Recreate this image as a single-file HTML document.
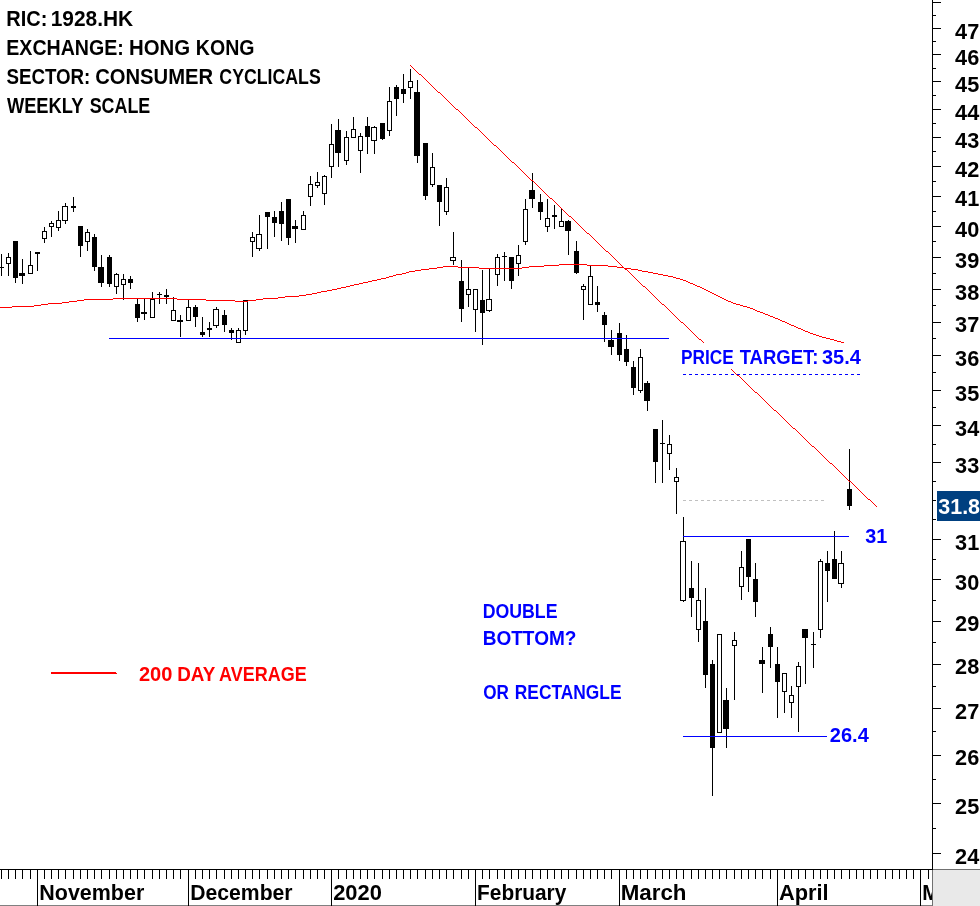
<!DOCTYPE html><html><head><meta charset="utf-8"><title>1928.HK chart</title>
<style>html,body{margin:0;padding:0;background:#fff}svg{display:block}text{font-family:"Liberation Sans",sans-serif;font-weight:bold}</style></head><body>
<svg width="980" height="906" viewBox="0 0 980 906">
<rect width="980" height="906" fill="#fff"/>
<g shape-rendering="crispEdges">
<rect x="1" y="254" width="1" height="22" fill="#000"/>
<rect x="-1" y="267" width="5" height="1" fill="#000"/>
<rect x="8" y="253" width="1" height="4" fill="#000"/>
<rect x="8" y="264" width="1" height="12" fill="#000"/>
<rect x="6.5" y="257.5" width="4" height="6" fill="none" stroke="#000" stroke-width="1"/>
<rect x="15" y="241" width="1" height="42" fill="#000"/>
<rect x="13" y="241" width="5" height="37" fill="#000"/>
<rect x="22" y="259" width="1" height="25" fill="#000"/>
<rect x="19" y="273" width="6" height="3" fill="#000"/>
<rect x="30" y="251" width="1" height="14" fill="#000"/>
<rect x="28.5" y="265.5" width="4" height="8" fill="none" stroke="#000" stroke-width="1"/>
<rect x="37" y="252" width="1" height="19" fill="#000"/>
<rect x="35" y="252" width="5" height="2" fill="#000"/>
<rect x="44" y="227" width="1" height="4" fill="#000"/>
<rect x="44" y="239" width="1" height="4" fill="#000"/>
<rect x="42.5" y="231.5" width="4" height="7" fill="none" stroke="#000" stroke-width="1"/>
<rect x="51" y="221" width="1" height="2" fill="#000"/>
<rect x="51" y="227" width="1" height="10" fill="#000"/>
<rect x="49.5" y="223.5" width="4" height="3" fill="none" stroke="#000" stroke-width="1"/>
<rect x="58" y="211" width="1" height="9" fill="#000"/>
<rect x="58" y="228" width="1" height="3" fill="#000"/>
<rect x="56.5" y="220.5" width="4" height="7" fill="none" stroke="#000" stroke-width="1"/>
<rect x="65" y="203" width="1" height="3" fill="#000"/>
<rect x="65" y="221" width="1" height="3" fill="#000"/>
<rect x="62.5" y="206.5" width="5" height="14" fill="none" stroke="#000" stroke-width="1"/>
<rect x="73" y="197" width="1" height="15" fill="#000"/>
<rect x="71" y="206" width="5" height="2" fill="#000"/>
<rect x="80" y="226" width="1" height="31" fill="#000"/>
<rect x="78" y="226" width="5" height="20" fill="#000"/>
<rect x="87" y="229" width="1" height="3" fill="#000"/>
<rect x="87" y="242" width="1" height="9" fill="#000"/>
<rect x="85.5" y="232.5" width="4" height="9" fill="none" stroke="#000" stroke-width="1"/>
<rect x="94" y="234" width="1" height="37" fill="#000"/>
<rect x="92" y="237" width="5" height="30" fill="#000"/>
<rect x="101" y="255" width="1" height="32" fill="#000"/>
<rect x="98" y="267" width="6" height="16" fill="#000"/>
<rect x="109" y="255" width="1" height="32" fill="#000"/>
<rect x="107" y="257" width="5" height="27" fill="#000"/>
<rect x="116" y="273" width="1" height="1" fill="#000"/>
<rect x="116" y="287" width="1" height="7" fill="#000"/>
<rect x="114.5" y="274.5" width="4" height="12" fill="none" stroke="#000" stroke-width="1"/>
<rect x="123" y="274" width="1" height="5" fill="#000"/>
<rect x="123" y="285" width="1" height="15" fill="#000"/>
<rect x="121.5" y="279.5" width="4" height="5" fill="none" stroke="#000" stroke-width="1"/>
<rect x="130" y="276" width="1" height="13" fill="#000"/>
<rect x="128" y="279" width="5" height="4" fill="#000"/>
<rect x="137" y="299" width="1" height="23" fill="#000"/>
<rect x="135" y="304" width="5" height="14" fill="#000"/>
<rect x="144" y="299" width="1" height="21" fill="#000"/>
<rect x="141" y="312" width="6" height="2" fill="#000"/>
<rect x="152" y="292" width="1" height="7" fill="#000"/>
<rect x="150.5" y="299.5" width="4" height="18" fill="none" stroke="#000" stroke-width="1"/>
<rect x="159" y="292" width="1" height="12" fill="#000"/>
<rect x="157" y="294" width="5" height="1" fill="#000"/>
<rect x="166" y="289" width="1" height="15" fill="#000"/>
<rect x="164" y="295" width="5" height="2" fill="#000"/>
<rect x="173" y="297" width="1" height="13" fill="#000"/>
<rect x="171.5" y="310.5" width="4" height="10" fill="none" stroke="#000" stroke-width="1"/>
<rect x="180" y="315" width="1" height="22" fill="#000"/>
<rect x="177" y="320" width="6" height="2" fill="#000"/>
<rect x="188" y="299" width="1" height="8" fill="#000"/>
<rect x="186.5" y="307.5" width="4" height="13" fill="none" stroke="#000" stroke-width="1"/>
<rect x="195" y="305" width="1" height="22" fill="#000"/>
<rect x="193" y="307" width="5" height="10" fill="#000"/>
<rect x="202" y="317" width="1" height="20" fill="#000"/>
<rect x="200" y="332" width="5" height="3" fill="#000"/>
<rect x="209" y="322" width="1" height="15" fill="#000"/>
<rect x="207" y="328" width="5" height="2" fill="#000"/>
<rect x="216" y="307" width="1" height="2" fill="#000"/>
<rect x="216" y="326" width="1" height="2" fill="#000"/>
<rect x="213.5" y="309.5" width="5" height="16" fill="none" stroke="#000" stroke-width="1"/>
<rect x="224" y="310" width="1" height="22" fill="#000"/>
<rect x="222" y="315" width="5" height="10" fill="#000"/>
<rect x="231" y="328" width="1" height="12" fill="#000"/>
<rect x="229" y="330" width="5" height="3" fill="#000"/>
<rect x="238" y="328" width="1" height="2" fill="#000"/>
<rect x="236.5" y="330.5" width="4" height="12" fill="none" stroke="#000" stroke-width="1"/>
<rect x="245" y="331" width="1" height="4" fill="#000"/>
<rect x="243.5" y="300.5" width="4" height="30" fill="none" stroke="#000" stroke-width="1"/>
<rect x="252" y="232" width="1" height="5" fill="#000"/>
<rect x="252" y="242" width="1" height="15" fill="#000"/>
<rect x="250.5" y="237.5" width="4" height="4" fill="none" stroke="#000" stroke-width="1"/>
<rect x="259" y="215" width="1" height="19" fill="#000"/>
<rect x="259" y="249" width="1" height="2" fill="#000"/>
<rect x="256.5" y="234.5" width="5" height="14" fill="none" stroke="#000" stroke-width="1"/>
<rect x="267" y="212" width="1" height="37" fill="#000"/>
<rect x="265" y="212" width="5" height="5" fill="#000"/>
<rect x="274" y="211" width="1" height="26" fill="#000"/>
<rect x="272" y="217" width="5" height="6" fill="#000"/>
<rect x="281" y="202" width="1" height="39" fill="#000"/>
<rect x="279" y="211" width="5" height="13" fill="#000"/>
<rect x="288" y="199" width="1" height="46" fill="#000"/>
<rect x="286" y="199" width="5" height="39" fill="#000"/>
<rect x="295" y="220" width="1" height="23" fill="#000"/>
<rect x="292" y="226" width="6" height="3" fill="#000"/>
<rect x="303" y="211" width="1" height="4" fill="#000"/>
<rect x="301.5" y="215.5" width="4" height="14" fill="none" stroke="#000" stroke-width="1"/>
<rect x="310" y="176" width="1" height="8" fill="#000"/>
<rect x="310" y="197" width="1" height="9" fill="#000"/>
<rect x="308.5" y="184.5" width="4" height="12" fill="none" stroke="#000" stroke-width="1"/>
<rect x="317" y="172" width="1" height="10" fill="#000"/>
<rect x="317" y="186" width="1" height="2" fill="#000"/>
<rect x="315.5" y="182.5" width="4" height="3" fill="none" stroke="#000" stroke-width="1"/>
<rect x="324" y="175" width="1" height="1" fill="#000"/>
<rect x="324" y="194" width="1" height="11" fill="#000"/>
<rect x="322.5" y="176.5" width="4" height="17" fill="none" stroke="#000" stroke-width="1"/>
<rect x="331" y="124" width="1" height="20" fill="#000"/>
<rect x="331" y="167" width="1" height="11" fill="#000"/>
<rect x="329.5" y="144.5" width="4" height="22" fill="none" stroke="#000" stroke-width="1"/>
<rect x="338" y="119" width="1" height="48" fill="#000"/>
<rect x="335" y="130" width="6" height="23" fill="#000"/>
<rect x="346" y="131" width="1" height="6" fill="#000"/>
<rect x="346" y="161" width="1" height="4" fill="#000"/>
<rect x="344.5" y="137.5" width="4" height="23" fill="none" stroke="#000" stroke-width="1"/>
<rect x="353" y="117" width="1" height="12" fill="#000"/>
<rect x="351.5" y="129.5" width="4" height="8" fill="none" stroke="#000" stroke-width="1"/>
<rect x="360" y="133" width="1" height="3" fill="#000"/>
<rect x="360" y="151" width="1" height="22" fill="#000"/>
<rect x="358.5" y="136.5" width="4" height="14" fill="none" stroke="#000" stroke-width="1"/>
<rect x="367" y="117" width="1" height="37" fill="#000"/>
<rect x="365" y="126" width="5" height="11" fill="#000"/>
<rect x="374" y="126" width="1" height="1" fill="#000"/>
<rect x="374" y="141" width="1" height="13" fill="#000"/>
<rect x="371.5" y="127.5" width="5" height="13" fill="none" stroke="#000" stroke-width="1"/>
<rect x="382" y="123" width="1" height="17" fill="#000"/>
<rect x="380" y="123" width="5" height="16" fill="#000"/>
<rect x="389" y="87" width="1" height="14" fill="#000"/>
<rect x="389" y="131" width="1" height="5" fill="#000"/>
<rect x="387.5" y="101.5" width="4" height="29" fill="none" stroke="#000" stroke-width="1"/>
<rect x="396" y="85" width="1" height="31" fill="#000"/>
<rect x="394" y="87" width="5" height="12" fill="#000"/>
<rect x="403" y="74" width="1" height="29" fill="#000"/>
<rect x="401" y="89" width="5" height="5" fill="#000"/>
<rect x="410" y="69" width="1" height="12" fill="#000"/>
<rect x="410" y="88" width="1" height="11" fill="#000"/>
<rect x="408.5" y="81.5" width="4" height="6" fill="none" stroke="#000" stroke-width="1"/>
<rect x="417" y="80" width="1" height="83" fill="#000"/>
<rect x="414" y="92" width="6" height="64" fill="#000"/>
<rect x="425" y="143" width="1" height="57" fill="#000"/>
<rect x="423" y="143" width="5" height="53" fill="#000"/>
<rect x="432" y="153" width="1" height="14" fill="#000"/>
<rect x="432" y="185" width="1" height="2" fill="#000"/>
<rect x="430.5" y="167.5" width="4" height="17" fill="none" stroke="#000" stroke-width="1"/>
<rect x="439" y="185" width="1" height="41" fill="#000"/>
<rect x="437" y="185" width="5" height="17" fill="#000"/>
<rect x="446" y="178" width="1" height="9" fill="#000"/>
<rect x="446" y="212" width="1" height="3" fill="#000"/>
<rect x="444.5" y="187.5" width="4" height="24" fill="none" stroke="#000" stroke-width="1"/>
<rect x="453" y="232" width="1" height="25" fill="#000"/>
<rect x="453" y="261" width="1" height="4" fill="#000"/>
<rect x="450.5" y="257.5" width="5" height="3" fill="none" stroke="#000" stroke-width="1"/>
<rect x="461" y="260" width="1" height="62" fill="#000"/>
<rect x="459" y="281" width="5" height="28" fill="#000"/>
<rect x="468" y="267" width="1" height="22" fill="#000"/>
<rect x="468" y="295" width="1" height="12" fill="#000"/>
<rect x="466.5" y="289.5" width="4" height="5" fill="none" stroke="#000" stroke-width="1"/>
<rect x="475" y="310" width="1" height="22" fill="#000"/>
<rect x="473.5" y="289.5" width="4" height="20" fill="none" stroke="#000" stroke-width="1"/>
<rect x="482" y="270" width="1" height="75" fill="#000"/>
<rect x="480" y="300" width="5" height="13" fill="#000"/>
<rect x="489" y="268" width="1" height="31" fill="#000"/>
<rect x="489" y="311" width="1" height="1" fill="#000"/>
<rect x="486.5" y="299.5" width="5" height="11" fill="none" stroke="#000" stroke-width="1"/>
<rect x="497" y="254" width="1" height="3" fill="#000"/>
<rect x="497" y="275" width="1" height="11" fill="#000"/>
<rect x="495.5" y="257.5" width="4" height="17" fill="none" stroke="#000" stroke-width="1"/>
<rect x="504" y="252" width="1" height="29" fill="#000"/>
<rect x="502" y="256" width="5" height="1" fill="#000"/>
<rect x="511" y="257" width="1" height="32" fill="#000"/>
<rect x="509" y="257" width="5" height="24" fill="#000"/>
<rect x="518" y="245" width="1" height="10" fill="#000"/>
<rect x="518" y="264" width="1" height="12" fill="#000"/>
<rect x="516.5" y="255.5" width="4" height="8" fill="none" stroke="#000" stroke-width="1"/>
<rect x="525" y="199" width="1" height="10" fill="#000"/>
<rect x="525" y="242" width="1" height="3" fill="#000"/>
<rect x="523.5" y="209.5" width="4" height="32" fill="none" stroke="#000" stroke-width="1"/>
<rect x="532" y="173" width="1" height="35" fill="#000"/>
<rect x="529" y="190" width="6" height="9" fill="#000"/>
<rect x="540" y="194" width="1" height="26" fill="#000"/>
<rect x="538" y="202" width="5" height="10" fill="#000"/>
<rect x="547" y="199" width="1" height="19" fill="#000"/>
<rect x="547" y="227" width="1" height="5" fill="#000"/>
<rect x="545.5" y="218.5" width="4" height="8" fill="none" stroke="#000" stroke-width="1"/>
<rect x="554" y="205" width="1" height="24" fill="#000"/>
<rect x="552" y="215" width="5" height="2" fill="#000"/>
<rect x="561" y="208" width="1" height="13" fill="#000"/>
<rect x="559.5" y="221.5" width="4" height="5" fill="none" stroke="#000" stroke-width="1"/>
<rect x="568" y="220" width="1" height="35" fill="#000"/>
<rect x="565" y="221" width="6" height="10" fill="#000"/>
<rect x="576" y="241" width="1" height="33" fill="#000"/>
<rect x="574" y="251" width="5" height="22" fill="#000"/>
<rect x="583" y="284" width="1" height="2" fill="#000"/>
<rect x="583" y="290" width="1" height="30" fill="#000"/>
<rect x="581.5" y="286.5" width="4" height="3" fill="none" stroke="#000" stroke-width="1"/>
<rect x="590" y="265" width="1" height="11" fill="#000"/>
<rect x="588.5" y="276.5" width="4" height="28" fill="none" stroke="#000" stroke-width="1"/>
<rect x="597" y="286" width="1" height="26" fill="#000"/>
<rect x="595" y="302" width="5" height="3" fill="#000"/>
<rect x="604" y="312" width="1" height="30" fill="#000"/>
<rect x="602" y="315" width="5" height="10" fill="#000"/>
<rect x="611" y="330" width="1" height="25" fill="#000"/>
<rect x="608" y="340" width="6" height="7" fill="#000"/>
<rect x="619" y="323" width="1" height="38" fill="#000"/>
<rect x="617" y="333" width="5" height="22" fill="#000"/>
<rect x="626" y="335" width="1" height="31" fill="#000"/>
<rect x="624" y="349" width="5" height="13" fill="#000"/>
<rect x="633" y="361" width="1" height="34" fill="#000"/>
<rect x="631" y="367" width="5" height="21" fill="#000"/>
<rect x="640" y="349" width="1" height="8" fill="#000"/>
<rect x="640" y="391" width="1" height="2" fill="#000"/>
<rect x="638.5" y="357.5" width="4" height="33" fill="none" stroke="#000" stroke-width="1"/>
<rect x="647" y="381" width="1" height="30" fill="#000"/>
<rect x="644" y="383" width="6" height="18" fill="#000"/>
<rect x="655" y="429" width="1" height="54" fill="#000"/>
<rect x="653" y="429" width="5" height="33" fill="#000"/>
<rect x="662" y="420" width="1" height="63" fill="#000"/>
<rect x="660" y="443" width="5" height="1" fill="#000"/>
<rect x="669" y="435" width="1" height="9" fill="#000"/>
<rect x="669" y="454" width="1" height="16" fill="#000"/>
<rect x="667.5" y="444.5" width="4" height="9" fill="none" stroke="#000" stroke-width="1"/>
<rect x="676" y="468" width="1" height="9" fill="#000"/>
<rect x="676" y="482" width="1" height="32" fill="#000"/>
<rect x="674.5" y="477.5" width="4" height="4" fill="none" stroke="#000" stroke-width="1"/>
<rect x="683" y="517" width="1" height="24" fill="#000"/>
<rect x="683" y="601" width="1" height="1" fill="#000"/>
<rect x="680.5" y="541.5" width="5" height="59" fill="none" stroke="#000" stroke-width="1"/>
<rect x="691" y="561" width="1" height="56" fill="#000"/>
<rect x="689" y="588" width="5" height="10" fill="#000"/>
<rect x="698" y="563" width="1" height="37" fill="#000"/>
<rect x="698" y="630" width="1" height="12" fill="#000"/>
<rect x="696.5" y="600.5" width="4" height="29" fill="none" stroke="#000" stroke-width="1"/>
<rect x="705" y="588" width="1" height="100" fill="#000"/>
<rect x="703" y="621" width="5" height="54" fill="#000"/>
<rect x="712" y="660" width="1" height="136" fill="#000"/>
<rect x="710" y="664" width="5" height="84" fill="#000"/>
<rect x="717.5" y="634.5" width="4" height="98" fill="none" stroke="#000" stroke-width="1"/>
<rect x="726" y="688" width="1" height="60" fill="#000"/>
<rect x="723" y="700" width="6" height="29" fill="#000"/>
<rect x="734" y="632" width="1" height="8" fill="#000"/>
<rect x="734" y="646" width="1" height="54" fill="#000"/>
<rect x="732.5" y="640.5" width="4" height="5" fill="none" stroke="#000" stroke-width="1"/>
<rect x="741" y="551" width="1" height="16" fill="#000"/>
<rect x="741" y="587" width="1" height="13" fill="#000"/>
<rect x="739.5" y="567.5" width="4" height="19" fill="none" stroke="#000" stroke-width="1"/>
<rect x="748" y="539" width="1" height="53" fill="#000"/>
<rect x="746" y="539" width="5" height="38" fill="#000"/>
<rect x="755" y="563" width="1" height="54" fill="#000"/>
<rect x="753" y="579" width="5" height="23" fill="#000"/>
<rect x="762" y="647" width="1" height="46" fill="#000"/>
<rect x="759" y="660" width="6" height="4" fill="#000"/>
<rect x="770" y="627" width="1" height="41" fill="#000"/>
<rect x="768" y="634" width="5" height="13" fill="#000"/>
<rect x="777" y="647" width="1" height="71" fill="#000"/>
<rect x="775" y="664" width="5" height="18" fill="#000"/>
<rect x="784" y="692" width="1" height="21" fill="#000"/>
<rect x="782.5" y="673.5" width="4" height="18" fill="none" stroke="#000" stroke-width="1"/>
<rect x="791" y="686" width="1" height="9" fill="#000"/>
<rect x="791" y="703" width="1" height="15" fill="#000"/>
<rect x="789.5" y="695.5" width="4" height="7" fill="none" stroke="#000" stroke-width="1"/>
<rect x="798" y="662" width="1" height="4" fill="#000"/>
<rect x="798" y="687" width="1" height="45" fill="#000"/>
<rect x="796.5" y="666.5" width="4" height="20" fill="none" stroke="#000" stroke-width="1"/>
<rect x="805" y="629" width="1" height="55" fill="#000"/>
<rect x="802" y="629" width="6" height="9" fill="#000"/>
<rect x="813" y="632" width="1" height="36" fill="#000"/>
<rect x="811" y="644" width="5" height="1" fill="#000"/>
<rect x="820" y="559" width="1" height="2" fill="#000"/>
<rect x="820" y="630" width="1" height="8" fill="#000"/>
<rect x="818.5" y="561.5" width="4" height="68" fill="none" stroke="#000" stroke-width="1"/>
<rect x="827" y="551" width="1" height="51" fill="#000"/>
<rect x="825" y="563" width="5" height="8" fill="#000"/>
<rect x="834" y="531" width="1" height="48" fill="#000"/>
<rect x="832" y="559" width="5" height="20" fill="#000"/>
<rect x="841" y="551" width="1" height="12" fill="#000"/>
<rect x="841" y="584" width="1" height="4" fill="#000"/>
<rect x="838.5" y="563.5" width="5" height="20" fill="none" stroke="#000" stroke-width="1"/>
<rect x="849" y="449" width="1" height="61" fill="#000"/>
<rect x="847" y="489" width="5" height="17" fill="#000"/>
<path d="M0,307h1v1h-1zM1,307h1v1h-1zM2,307h1v1h-1zM3,307h1v1h-1zM4,307h1v1h-1zM5,307h1v1h-1zM6,307h1v1h-1zM7,307h1v1h-1zM8,307h1v1h-1zM9,307h1v1h-1zM10,307h1v1h-1zM11,307h1v1h-1zM12,306h1v1h-1zM13,306h1v1h-1zM14,306h1v1h-1zM15,306h1v1h-1zM16,306h1v1h-1zM17,306h1v1h-1zM18,306h1v1h-1zM19,306h1v1h-1zM20,306h1v1h-1zM21,306h1v1h-1zM22,306h1v1h-1zM23,306h1v1h-1zM24,306h1v1h-1zM25,306h1v1h-1zM26,306h1v1h-1zM27,306h1v1h-1zM28,306h1v1h-1zM29,306h1v1h-1zM30,306h1v1h-1zM31,306h1v1h-1zM32,306h1v1h-1zM33,306h1v1h-1zM34,305h1v1h-1zM35,305h1v1h-1zM36,305h1v1h-1zM37,305h1v1h-1zM38,305h1v1h-1zM39,305h1v1h-1zM40,305h1v1h-1zM41,304h1v1h-1zM42,304h1v1h-1zM43,304h1v1h-1zM44,304h1v1h-1zM45,304h1v1h-1zM46,304h1v1h-1zM47,304h1v1h-1zM48,303h1v1h-1zM49,303h1v1h-1zM50,303h1v1h-1zM51,303h1v1h-1zM52,303h1v1h-1zM53,303h1v1h-1zM54,303h1v1h-1zM55,303h1v1h-1zM56,303h1v1h-1zM57,303h1v1h-1zM58,303h1v1h-1zM59,303h1v1h-1zM60,303h1v1h-1zM61,303h1v1h-1zM62,302h1v1h-1zM63,302h1v1h-1zM64,302h1v1h-1zM65,302h1v1h-1zM66,302h1v1h-1zM67,302h1v1h-1zM68,302h1v1h-1zM69,301h1v1h-1zM70,301h1v1h-1zM71,301h1v1h-1zM72,301h1v1h-1zM73,301h1v1h-1zM74,301h1v1h-1zM75,301h1v1h-1zM76,301h1v1h-1zM77,300h1v1h-1zM78,300h1v1h-1zM79,300h1v1h-1zM80,300h1v1h-1zM81,300h1v1h-1zM82,300h1v1h-1zM83,300h1v1h-1zM84,299h1v1h-1zM85,299h1v1h-1zM86,299h1v1h-1zM87,299h1v1h-1zM88,299h1v1h-1zM89,299h1v1h-1zM90,299h1v1h-1zM91,299h1v1h-1zM92,299h1v1h-1zM93,299h1v1h-1zM94,299h1v1h-1zM95,299h1v1h-1zM96,299h1v1h-1zM97,299h1v1h-1zM98,299h1v1h-1zM99,299h1v1h-1zM100,299h1v1h-1zM101,299h1v1h-1zM102,299h1v1h-1zM103,299h1v1h-1zM104,299h1v1h-1zM105,299h1v1h-1zM106,299h1v1h-1zM107,299h1v1h-1zM108,299h1v1h-1zM109,299h1v1h-1zM110,299h1v1h-1zM111,299h1v1h-1zM112,299h1v1h-1zM113,298h1v1h-1zM114,298h1v1h-1zM115,298h1v1h-1zM116,298h1v1h-1zM117,298h1v1h-1zM118,298h1v1h-1zM119,298h1v1h-1zM120,298h1v1h-1zM121,298h1v1h-1zM122,298h1v1h-1zM123,298h1v1h-1zM124,298h1v1h-1zM125,298h1v1h-1zM126,298h1v1h-1zM127,298h1v1h-1zM128,298h1v1h-1zM129,298h1v1h-1zM130,298h1v1h-1zM131,298h1v1h-1zM132,298h1v1h-1zM133,298h1v1h-1zM134,298h1v1h-1zM135,298h1v1h-1zM136,298h1v1h-1zM137,298h1v1h-1zM138,298h1v1h-1zM139,298h1v1h-1zM140,298h1v1h-1zM141,298h1v1h-1zM142,298h1v1h-1zM143,298h1v1h-1zM144,298h1v1h-1zM145,298h1v1h-1zM146,298h1v1h-1zM147,298h1v1h-1zM148,298h1v1h-1zM149,298h1v1h-1zM150,298h1v1h-1zM151,298h1v1h-1zM152,298h1v1h-1zM153,298h1v1h-1zM154,298h1v1h-1zM155,298h1v1h-1zM156,298h1v1h-1zM157,298h1v1h-1zM158,298h1v1h-1zM159,298h1v1h-1zM160,298h1v1h-1zM161,298h1v1h-1zM162,298h1v1h-1zM163,298h1v1h-1zM164,298h1v1h-1zM165,298h1v1h-1zM166,298h1v1h-1zM167,298h1v1h-1zM168,298h1v1h-1zM169,298h1v1h-1zM170,298h1v1h-1zM171,298h1v1h-1zM172,298h1v1h-1zM173,298h1v1h-1zM174,298h1v1h-1zM175,298h1v1h-1zM176,298h1v1h-1zM177,299h1v1h-1zM178,299h1v1h-1zM179,299h1v1h-1zM180,299h1v1h-1zM181,299h1v1h-1zM182,299h1v1h-1zM183,299h1v1h-1zM184,299h1v1h-1zM185,299h1v1h-1zM186,299h1v1h-1zM187,299h1v1h-1zM188,299h1v1h-1zM189,299h1v1h-1zM190,299h1v1h-1zM191,299h1v1h-1zM192,299h1v1h-1zM193,299h1v1h-1zM194,299h1v1h-1zM195,299h1v1h-1zM196,299h1v1h-1zM197,299h1v1h-1zM198,299h1v1h-1zM199,299h1v1h-1zM200,299h1v1h-1zM201,299h1v1h-1zM202,299h1v1h-1zM203,299h1v1h-1zM204,299h1v1h-1zM205,299h1v1h-1zM206,300h1v1h-1zM207,300h1v1h-1zM208,300h1v1h-1zM209,300h1v1h-1zM210,300h1v1h-1zM211,300h1v1h-1zM212,300h1v1h-1zM213,300h1v1h-1zM214,300h1v1h-1zM215,300h1v1h-1zM216,300h1v1h-1zM217,300h1v1h-1zM218,300h1v1h-1zM219,300h1v1h-1zM220,300h1v1h-1zM221,300h1v1h-1zM222,300h1v1h-1zM223,300h1v1h-1zM224,300h1v1h-1zM225,300h1v1h-1zM226,300h1v1h-1zM227,300h1v1h-1zM228,300h1v1h-1zM229,300h1v1h-1zM230,300h1v1h-1zM231,300h1v1h-1zM232,300h1v1h-1zM233,300h1v1h-1zM234,300h1v1h-1zM235,301h1v1h-1zM236,301h1v1h-1zM237,301h1v1h-1zM238,301h1v1h-1zM239,301h1v1h-1zM240,301h1v1h-1zM241,301h1v1h-1zM242,301h1v1h-1zM243,301h1v1h-1zM244,301h1v1h-1zM245,301h1v1h-1zM246,301h1v1h-1zM247,301h1v1h-1zM248,300h1v1h-1zM249,300h1v1h-1zM250,300h1v1h-1zM251,300h1v1h-1zM252,300h1v1h-1zM253,300h1v1h-1zM254,300h1v1h-1zM255,300h1v1h-1zM256,299h1v1h-1zM257,299h1v1h-1zM258,299h1v1h-1zM259,299h1v1h-1zM260,299h1v1h-1zM261,299h1v1h-1zM262,299h1v1h-1zM263,298h1v1h-1zM264,298h1v1h-1zM265,298h1v1h-1zM266,298h1v1h-1zM267,298h1v1h-1zM268,298h1v1h-1zM269,298h1v1h-1zM270,298h1v1h-1zM271,298h1v1h-1zM272,298h1v1h-1zM273,298h1v1h-1zM274,298h1v1h-1zM275,298h1v1h-1zM276,298h1v1h-1zM277,298h1v1h-1zM278,297h1v1h-1zM279,297h1v1h-1zM280,297h1v1h-1zM281,297h1v1h-1zM282,297h1v1h-1zM283,297h1v1h-1zM284,297h1v1h-1zM285,296h1v1h-1zM286,296h1v1h-1zM287,296h1v1h-1zM288,296h1v1h-1zM289,296h1v1h-1zM290,296h1v1h-1zM291,296h1v1h-1zM292,296h1v1h-1zM293,296h1v1h-1zM294,296h1v1h-1zM295,296h1v1h-1zM296,296h1v1h-1zM297,296h1v1h-1zM298,296h1v1h-1zM299,295h1v1h-1zM300,295h1v1h-1zM301,295h1v1h-1zM302,295h1v1h-1zM303,295h1v1h-1zM304,295h1v1h-1zM305,295h1v1h-1zM306,294h1v1h-1zM307,294h1v1h-1zM308,294h1v1h-1zM309,294h1v1h-1zM310,294h1v1h-1zM311,294h1v1h-1zM312,293h1v1h-1zM313,293h1v1h-1zM314,293h1v1h-1zM315,293h1v1h-1zM316,293h1v1h-1zM317,292h1v1h-1zM318,292h1v1h-1zM319,292h1v1h-1zM320,292h1v1h-1zM321,291h1v1h-1zM322,291h1v1h-1zM323,291h1v1h-1zM324,291h1v1h-1zM325,291h1v1h-1zM326,291h1v1h-1zM327,290h1v1h-1zM328,290h1v1h-1zM329,290h1v1h-1zM330,290h1v1h-1zM331,290h1v1h-1zM332,289h1v1h-1zM333,289h1v1h-1zM334,289h1v1h-1zM335,289h1v1h-1zM336,289h1v1h-1zM337,288h1v1h-1zM338,288h1v1h-1zM339,288h1v1h-1zM340,288h1v1h-1zM341,287h1v1h-1zM342,287h1v1h-1zM343,287h1v1h-1zM344,287h1v1h-1zM345,287h1v1h-1zM346,286h1v1h-1zM347,286h1v1h-1zM348,286h1v1h-1zM349,286h1v1h-1zM350,285h1v1h-1zM351,285h1v1h-1zM352,285h1v1h-1zM353,285h1v1h-1zM354,284h1v1h-1zM355,284h1v1h-1zM356,284h1v1h-1zM357,284h1v1h-1zM358,284h1v1h-1zM359,283h1v1h-1zM360,283h1v1h-1zM361,283h1v1h-1zM362,283h1v1h-1zM363,282h1v1h-1zM364,282h1v1h-1zM365,282h1v1h-1zM366,282h1v1h-1zM367,282h1v1h-1zM368,281h1v1h-1zM369,281h1v1h-1zM370,281h1v1h-1zM371,281h1v1h-1zM372,280h1v1h-1zM373,280h1v1h-1zM374,280h1v1h-1zM375,280h1v1h-1zM376,280h1v1h-1zM377,279h1v1h-1zM378,279h1v1h-1zM379,279h1v1h-1zM380,279h1v1h-1zM381,278h1v1h-1zM382,278h1v1h-1zM383,278h1v1h-1zM384,278h1v1h-1zM385,278h1v1h-1zM386,277h1v1h-1zM387,277h1v1h-1zM388,277h1v1h-1zM389,276h1v1h-1zM390,276h1v1h-1zM391,276h1v1h-1zM392,276h1v1h-1zM393,275h1v1h-1zM394,275h1v1h-1zM395,275h1v1h-1zM396,274h1v1h-1zM397,274h1v1h-1zM398,274h1v1h-1zM399,274h1v1h-1zM400,274h1v1h-1zM401,274h1v1h-1zM402,273h1v1h-1zM403,273h1v1h-1zM404,273h1v1h-1zM405,273h1v1h-1zM406,272h1v1h-1zM407,272h1v1h-1zM408,272h1v1h-1zM409,271h1v1h-1zM410,271h1v1h-1zM411,271h1v1h-1zM412,271h1v1h-1zM413,271h1v1h-1zM414,271h1v1h-1zM415,270h1v1h-1zM416,270h1v1h-1zM417,270h1v1h-1zM418,270h1v1h-1zM419,270h1v1h-1zM420,270h1v1h-1zM421,269h1v1h-1zM422,269h1v1h-1zM423,269h1v1h-1zM424,269h1v1h-1zM425,269h1v1h-1zM426,269h1v1h-1zM427,269h1v1h-1zM428,269h1v1h-1zM429,268h1v1h-1zM430,268h1v1h-1zM431,268h1v1h-1zM432,268h1v1h-1zM433,268h1v1h-1zM434,268h1v1h-1zM435,268h1v1h-1zM436,268h1v1h-1zM437,267h1v1h-1zM438,267h1v1h-1zM439,267h1v1h-1zM440,267h1v1h-1zM441,267h1v1h-1zM442,267h1v1h-1zM443,266h1v1h-1zM444,266h1v1h-1zM445,266h1v1h-1zM446,266h1v1h-1zM447,266h1v1h-1zM448,266h1v1h-1zM449,266h1v1h-1zM450,266h1v1h-1zM451,266h1v1h-1zM452,266h1v1h-1zM453,266h1v1h-1zM454,266h1v1h-1zM455,266h1v1h-1zM456,266h1v1h-1zM457,266h1v1h-1zM458,267h1v1h-1zM459,267h1v1h-1zM460,267h1v1h-1zM461,267h1v1h-1zM462,267h1v1h-1zM463,267h1v1h-1zM464,267h1v1h-1zM465,267h1v1h-1zM466,267h1v1h-1zM467,267h1v1h-1zM468,267h1v1h-1zM469,267h1v1h-1zM470,267h1v1h-1zM471,267h1v1h-1zM472,267h1v1h-1zM473,267h1v1h-1zM474,267h1v1h-1zM475,267h1v1h-1zM476,267h1v1h-1zM477,267h1v1h-1zM478,267h1v1h-1zM479,268h1v1h-1zM480,268h1v1h-1zM481,268h1v1h-1zM482,268h1v1h-1zM483,268h1v1h-1zM484,268h1v1h-1zM485,268h1v1h-1zM486,268h1v1h-1zM487,268h1v1h-1zM488,268h1v1h-1zM489,268h1v1h-1zM490,268h1v1h-1zM491,268h1v1h-1zM492,268h1v1h-1zM493,268h1v1h-1zM494,268h1v1h-1zM495,268h1v1h-1zM496,268h1v1h-1zM497,268h1v1h-1zM498,268h1v1h-1zM499,268h1v1h-1zM500,268h1v1h-1zM501,268h1v1h-1zM502,268h1v1h-1zM503,268h1v1h-1zM504,268h1v1h-1zM505,268h1v1h-1zM506,268h1v1h-1zM507,268h1v1h-1zM508,268h1v1h-1zM509,268h1v1h-1zM510,268h1v1h-1zM511,268h1v1h-1zM512,268h1v1h-1zM513,268h1v1h-1zM514,268h1v1h-1zM515,268h1v1h-1zM516,268h1v1h-1zM517,268h1v1h-1zM518,268h1v1h-1zM519,268h1v1h-1zM520,268h1v1h-1zM521,268h1v1h-1zM522,267h1v1h-1zM523,267h1v1h-1zM524,267h1v1h-1zM525,267h1v1h-1zM526,267h1v1h-1zM527,267h1v1h-1zM528,267h1v1h-1zM529,266h1v1h-1zM530,266h1v1h-1zM531,266h1v1h-1zM532,266h1v1h-1zM533,266h1v1h-1zM534,266h1v1h-1zM535,266h1v1h-1zM536,266h1v1h-1zM537,266h1v1h-1zM538,266h1v1h-1zM539,266h1v1h-1zM540,266h1v1h-1zM541,266h1v1h-1zM542,266h1v1h-1zM543,266h1v1h-1zM544,265h1v1h-1zM545,265h1v1h-1zM546,265h1v1h-1zM547,265h1v1h-1zM548,265h1v1h-1zM549,265h1v1h-1zM550,265h1v1h-1zM551,265h1v1h-1zM552,265h1v1h-1zM553,265h1v1h-1zM554,265h1v1h-1zM555,265h1v1h-1zM556,265h1v1h-1zM557,265h1v1h-1zM558,265h1v1h-1zM559,264h1v1h-1zM560,264h1v1h-1zM561,264h1v1h-1zM562,264h1v1h-1zM563,264h1v1h-1zM564,264h1v1h-1zM565,264h1v1h-1zM566,264h1v1h-1zM567,264h1v1h-1zM568,264h1v1h-1zM569,264h1v1h-1zM570,264h1v1h-1zM571,264h1v1h-1zM572,264h1v1h-1zM573,264h1v1h-1zM574,264h1v1h-1zM575,264h1v1h-1zM576,264h1v1h-1zM577,264h1v1h-1zM578,264h1v1h-1zM579,264h1v1h-1zM580,264h1v1h-1zM581,264h1v1h-1zM582,264h1v1h-1zM583,264h1v1h-1zM584,264h1v1h-1zM585,264h1v1h-1zM586,264h1v1h-1zM587,265h1v1h-1zM588,265h1v1h-1zM589,265h1v1h-1zM590,265h1v1h-1zM591,265h1v1h-1zM592,265h1v1h-1zM593,265h1v1h-1zM594,265h1v1h-1zM595,265h1v1h-1zM596,265h1v1h-1zM597,265h1v1h-1zM598,265h1v1h-1zM599,265h1v1h-1zM600,265h1v1h-1zM601,265h1v1h-1zM602,265h1v1h-1zM603,265h1v1h-1zM604,265h1v1h-1zM605,265h1v1h-1zM606,265h1v1h-1zM607,265h1v1h-1zM608,266h1v1h-1zM609,266h1v1h-1zM610,266h1v1h-1zM611,266h1v1h-1zM612,266h1v1h-1zM613,266h1v1h-1zM614,266h1v1h-1zM615,266h1v1h-1zM616,266h1v1h-1zM617,267h1v1h-1zM618,267h1v1h-1zM619,267h1v1h-1zM620,267h1v1h-1zM621,267h1v1h-1zM622,267h1v1h-1zM623,267h1v1h-1zM624,268h1v1h-1zM625,268h1v1h-1zM626,268h1v1h-1zM627,268h1v1h-1zM628,268h1v1h-1zM629,268h1v1h-1zM630,268h1v1h-1zM631,269h1v1h-1zM632,269h1v1h-1zM633,269h1v1h-1zM634,269h1v1h-1zM635,269h1v1h-1zM636,269h1v1h-1zM637,269h1v1h-1zM638,270h1v1h-1zM639,270h1v1h-1zM640,270h1v1h-1zM641,270h1v1h-1zM642,271h1v1h-1zM643,271h1v1h-1zM644,271h1v1h-1zM645,271h1v1h-1zM646,271h1v1h-1zM647,271h1v1h-1zM648,272h1v1h-1zM649,272h1v1h-1zM650,272h1v1h-1zM651,272h1v1h-1zM652,272h1v1h-1zM653,273h1v1h-1zM654,273h1v1h-1zM655,273h1v1h-1zM656,273h1v1h-1zM657,273h1v1h-1zM658,274h1v1h-1zM659,274h1v1h-1zM660,274h1v1h-1zM661,274h1v1h-1zM662,274h1v1h-1zM663,275h1v1h-1zM664,275h1v1h-1zM665,275h1v1h-1zM666,275h1v1h-1zM667,275h1v1h-1zM668,276h1v1h-1zM669,276h1v1h-1zM670,276h1v1h-1zM671,276h1v1h-1zM672,276h1v1h-1zM673,277h1v1h-1zM674,277h1v1h-1zM675,277h1v1h-1zM676,278h1v1h-1zM677,278h1v1h-1zM678,278h1v1h-1zM679,278h1v1h-1zM680,279h1v1h-1zM681,279h1v1h-1zM682,279h1v1h-1zM683,280h1v1h-1zM684,280h1v1h-1zM685,280h1v1h-1zM686,281h1v1h-1zM687,281h1v1h-1zM688,282h1v1h-1zM689,282h1v1h-1zM690,283h1v1h-1zM691,283h1v1h-1zM692,283h1v1h-1zM693,284h1v1h-1zM694,284h1v1h-1zM695,285h1v1h-1zM696,285h1v1h-1zM697,286h1v1h-1zM698,286h1v1h-1zM699,286h1v1h-1zM700,287h1v1h-1zM701,287h1v1h-1zM702,288h1v1h-1zM703,288h1v1h-1zM704,289h1v1h-1zM705,289h1v1h-1zM706,290h1v1h-1zM707,290h1v1h-1zM708,291h1v1h-1zM709,291h1v1h-1zM710,292h1v1h-1zM711,292h1v1h-1zM712,293h1v1h-1zM713,293h1v1h-1zM714,294h1v1h-1zM715,294h1v1h-1zM716,295h1v1h-1zM717,295h1v1h-1zM718,296h1v1h-1zM719,296h1v1h-1zM720,297h1v1h-1zM721,297h1v1h-1zM722,298h1v1h-1zM723,298h1v1h-1zM724,299h1v1h-1zM725,299h1v1h-1zM726,300h1v1h-1zM727,300h1v1h-1zM728,301h1v1h-1zM729,301h1v1h-1zM730,301h1v1h-1zM731,302h1v1h-1zM732,302h1v1h-1zM733,303h1v1h-1zM734,303h1v1h-1zM735,303h1v1h-1zM736,304h1v1h-1zM737,304h1v1h-1zM738,304h1v1h-1zM739,304h1v1h-1zM740,305h1v1h-1zM741,305h1v1h-1zM742,305h1v1h-1zM743,306h1v1h-1zM744,306h1v1h-1zM745,306h1v1h-1zM746,306h1v1h-1zM747,307h1v1h-1zM748,307h1v1h-1zM749,307h1v1h-1zM750,308h1v1h-1zM751,308h1v1h-1zM752,308h1v1h-1zM753,309h1v1h-1zM754,309h1v1h-1zM755,310h1v1h-1zM756,310h1v1h-1zM757,311h1v1h-1zM758,311h1v1h-1zM759,311h1v1h-1zM760,312h1v1h-1zM761,312h1v1h-1zM762,312h1v1h-1zM763,313h1v1h-1zM764,313h1v1h-1zM765,314h1v1h-1zM766,314h1v1h-1zM767,314h1v1h-1zM768,315h1v1h-1zM769,315h1v1h-1zM770,316h1v1h-1zM771,316h1v1h-1zM772,316h1v1h-1zM773,317h1v1h-1zM774,317h1v1h-1zM775,318h1v1h-1zM776,318h1v1h-1zM777,318h1v1h-1zM778,319h1v1h-1zM779,319h1v1h-1zM780,320h1v1h-1zM781,320h1v1h-1zM782,321h1v1h-1zM783,321h1v1h-1zM784,321h1v1h-1zM785,322h1v1h-1zM786,322h1v1h-1zM787,323h1v1h-1zM788,323h1v1h-1zM789,324h1v1h-1zM790,324h1v1h-1zM791,325h1v1h-1zM792,325h1v1h-1zM793,325h1v1h-1zM794,326h1v1h-1zM795,326h1v1h-1zM796,327h1v1h-1zM797,327h1v1h-1zM798,328h1v1h-1zM799,328h1v1h-1zM800,328h1v1h-1zM801,329h1v1h-1zM802,329h1v1h-1zM803,330h1v1h-1zM804,330h1v1h-1zM805,331h1v1h-1zM806,331h1v1h-1zM807,331h1v1h-1zM808,332h1v1h-1zM809,332h1v1h-1zM810,333h1v1h-1zM811,333h1v1h-1zM812,333h1v1h-1zM813,334h1v1h-1zM814,334h1v1h-1zM815,334h1v1h-1zM816,335h1v1h-1zM817,335h1v1h-1zM818,335h1v1h-1zM819,336h1v1h-1zM820,336h1v1h-1zM821,336h1v1h-1zM822,337h1v1h-1zM823,337h1v1h-1zM824,337h1v1h-1zM825,337h1v1h-1zM826,338h1v1h-1zM827,338h1v1h-1zM828,338h1v1h-1zM829,338h1v1h-1zM830,339h1v1h-1zM831,339h1v1h-1zM832,339h1v1h-1zM833,339h1v1h-1zM834,340h1v1h-1zM835,340h1v1h-1zM836,340h1v1h-1zM837,341h1v1h-1zM838,341h1v1h-1zM839,341h1v1h-1zM840,341h1v1h-1zM841,342h1v1h-1zM842,342h1v1h-1zM843,342h1v1h-1z" fill="#f00"/>
<rect x="109" y="338" width="560" height="1" fill="#00f"/>
<rect x="683" y="536" width="166" height="1" fill="#00f"/>
<rect x="683" y="736" width="144" height="1" fill="#00f"/>
<line x1="683" y1="500.5" x2="824" y2="500.5" stroke="#c0c0c0" stroke-width="1" stroke-dasharray="3,3"/>
<path d="M410,65h1v1h-1zM411,66h1v1h-1zM412,67h1v1h-1zM413,68h1v1h-1zM414,69h1v1h-1zM415,70h1v1h-1zM416,71h1v1h-1zM417,72h1v1h-1zM418,73h1v1h-1zM419,74h1v1h-1zM420,74h1v1h-1zM421,75h1v1h-1zM422,76h1v1h-1zM423,77h1v1h-1zM424,78h1v1h-1zM425,79h1v1h-1zM426,80h1v1h-1zM427,81h1v1h-1zM428,82h1v1h-1zM429,83h1v1h-1zM430,84h1v1h-1zM431,85h1v1h-1zM432,86h1v1h-1zM433,87h1v1h-1zM434,88h1v1h-1zM435,89h1v1h-1zM436,90h1v1h-1zM437,91h1v1h-1zM438,92h1v1h-1zM439,92h1v1h-1zM440,93h1v1h-1zM441,94h1v1h-1zM442,95h1v1h-1zM443,96h1v1h-1zM444,97h1v1h-1zM445,98h1v1h-1zM446,99h1v1h-1zM447,100h1v1h-1zM448,101h1v1h-1zM449,102h1v1h-1zM450,103h1v1h-1zM451,104h1v1h-1zM452,105h1v1h-1zM453,106h1v1h-1zM454,107h1v1h-1zM455,108h1v1h-1zM456,109h1v1h-1zM457,109h1v1h-1zM458,110h1v1h-1zM459,111h1v1h-1zM460,112h1v1h-1zM461,113h1v1h-1zM462,114h1v1h-1zM463,115h1v1h-1zM464,116h1v1h-1zM465,117h1v1h-1zM466,118h1v1h-1zM467,119h1v1h-1zM468,120h1v1h-1zM469,121h1v1h-1zM470,122h1v1h-1zM471,123h1v1h-1zM472,124h1v1h-1zM473,125h1v1h-1zM474,126h1v1h-1zM475,127h1v1h-1zM476,127h1v1h-1zM477,128h1v1h-1zM478,129h1v1h-1zM479,130h1v1h-1zM480,131h1v1h-1zM481,132h1v1h-1zM482,133h1v1h-1zM483,134h1v1h-1zM484,135h1v1h-1zM485,136h1v1h-1zM486,137h1v1h-1zM487,138h1v1h-1zM488,139h1v1h-1zM489,140h1v1h-1zM490,141h1v1h-1zM491,142h1v1h-1zM492,143h1v1h-1zM493,144h1v1h-1zM494,145h1v1h-1zM495,145h1v1h-1zM496,146h1v1h-1zM497,147h1v1h-1zM498,148h1v1h-1zM499,149h1v1h-1zM500,150h1v1h-1zM501,151h1v1h-1zM502,152h1v1h-1zM503,153h1v1h-1zM504,154h1v1h-1zM505,155h1v1h-1zM506,156h1v1h-1zM507,157h1v1h-1zM508,158h1v1h-1zM509,159h1v1h-1zM510,160h1v1h-1zM511,161h1v1h-1zM512,162h1v1h-1zM513,162h1v1h-1zM514,163h1v1h-1zM515,164h1v1h-1zM516,165h1v1h-1zM517,166h1v1h-1zM518,167h1v1h-1zM519,168h1v1h-1zM520,169h1v1h-1zM521,170h1v1h-1zM522,171h1v1h-1zM523,172h1v1h-1zM524,173h1v1h-1zM525,174h1v1h-1zM526,175h1v1h-1zM527,176h1v1h-1zM528,177h1v1h-1zM529,178h1v1h-1zM530,179h1v1h-1zM531,180h1v1h-1zM532,180h1v1h-1zM533,181h1v1h-1zM534,182h1v1h-1zM535,183h1v1h-1zM536,184h1v1h-1zM537,185h1v1h-1zM538,186h1v1h-1zM539,187h1v1h-1zM540,188h1v1h-1zM541,189h1v1h-1zM542,190h1v1h-1zM543,191h1v1h-1zM544,192h1v1h-1zM545,193h1v1h-1zM546,194h1v1h-1zM547,195h1v1h-1zM548,196h1v1h-1zM549,197h1v1h-1zM550,198h1v1h-1zM551,198h1v1h-1zM552,199h1v1h-1zM553,200h1v1h-1zM554,201h1v1h-1zM555,202h1v1h-1zM556,203h1v1h-1zM557,204h1v1h-1zM558,205h1v1h-1zM559,206h1v1h-1zM560,207h1v1h-1zM561,208h1v1h-1zM562,209h1v1h-1zM563,210h1v1h-1zM564,211h1v1h-1zM565,212h1v1h-1zM566,213h1v1h-1zM567,214h1v1h-1zM568,215h1v1h-1zM569,216h1v1h-1zM570,216h1v1h-1zM571,217h1v1h-1zM572,218h1v1h-1zM573,219h1v1h-1zM574,220h1v1h-1zM575,221h1v1h-1zM576,222h1v1h-1zM577,223h1v1h-1zM578,224h1v1h-1zM579,225h1v1h-1zM580,226h1v1h-1zM581,227h1v1h-1zM582,228h1v1h-1zM583,229h1v1h-1zM584,230h1v1h-1zM585,231h1v1h-1zM586,232h1v1h-1zM587,233h1v1h-1zM588,233h1v1h-1zM589,234h1v1h-1zM590,235h1v1h-1zM591,236h1v1h-1zM592,237h1v1h-1zM593,238h1v1h-1zM594,239h1v1h-1zM595,240h1v1h-1zM596,241h1v1h-1zM597,242h1v1h-1zM598,243h1v1h-1zM599,244h1v1h-1zM600,245h1v1h-1zM601,246h1v1h-1zM602,247h1v1h-1zM603,248h1v1h-1zM604,249h1v1h-1zM605,250h1v1h-1zM606,251h1v1h-1zM607,251h1v1h-1zM608,252h1v1h-1zM609,253h1v1h-1zM610,254h1v1h-1zM611,255h1v1h-1zM612,256h1v1h-1zM613,257h1v1h-1zM614,258h1v1h-1zM615,259h1v1h-1zM616,260h1v1h-1zM617,261h1v1h-1zM618,262h1v1h-1zM619,263h1v1h-1zM620,264h1v1h-1zM621,265h1v1h-1zM622,266h1v1h-1zM623,267h1v1h-1zM624,268h1v1h-1zM625,269h1v1h-1zM626,269h1v1h-1zM627,270h1v1h-1zM628,271h1v1h-1zM629,272h1v1h-1zM630,273h1v1h-1zM631,274h1v1h-1zM632,275h1v1h-1zM633,276h1v1h-1zM634,277h1v1h-1zM635,278h1v1h-1zM636,279h1v1h-1zM637,280h1v1h-1zM638,281h1v1h-1zM639,282h1v1h-1zM640,283h1v1h-1zM641,284h1v1h-1zM642,285h1v1h-1zM643,286h1v1h-1zM644,286h1v1h-1zM645,287h1v1h-1zM646,288h1v1h-1zM647,289h1v1h-1zM648,290h1v1h-1zM649,291h1v1h-1zM650,292h1v1h-1zM651,293h1v1h-1zM652,294h1v1h-1zM653,295h1v1h-1zM654,296h1v1h-1zM655,297h1v1h-1zM656,298h1v1h-1zM657,299h1v1h-1zM658,300h1v1h-1zM659,301h1v1h-1zM660,302h1v1h-1zM661,303h1v1h-1zM662,304h1v1h-1zM663,304h1v1h-1zM664,305h1v1h-1zM665,306h1v1h-1zM666,307h1v1h-1zM667,308h1v1h-1zM668,309h1v1h-1zM669,310h1v1h-1zM670,311h1v1h-1zM671,312h1v1h-1zM672,313h1v1h-1zM673,314h1v1h-1zM674,315h1v1h-1zM675,316h1v1h-1zM676,317h1v1h-1zM677,318h1v1h-1zM678,319h1v1h-1zM679,320h1v1h-1zM680,321h1v1h-1zM681,322h1v1h-1zM682,322h1v1h-1zM683,323h1v1h-1zM684,324h1v1h-1zM685,325h1v1h-1zM686,326h1v1h-1zM687,327h1v1h-1zM688,328h1v1h-1zM689,329h1v1h-1zM690,330h1v1h-1zM691,331h1v1h-1zM692,332h1v1h-1zM693,333h1v1h-1zM694,334h1v1h-1zM695,335h1v1h-1zM696,336h1v1h-1zM697,337h1v1h-1zM698,338h1v1h-1zM699,339h1v1h-1zM700,339h1v1h-1zM701,340h1v1h-1zM702,341h1v1h-1zM703,342h1v1h-1zM704,343h1v1h-1zM705,344h1v1h-1zM706,345h1v1h-1zM707,346h1v1h-1zM708,347h1v1h-1zM709,348h1v1h-1zM710,349h1v1h-1zM711,350h1v1h-1zM712,351h1v1h-1zM713,352h1v1h-1zM714,353h1v1h-1zM715,354h1v1h-1zM716,355h1v1h-1zM717,356h1v1h-1zM718,357h1v1h-1zM719,357h1v1h-1zM720,358h1v1h-1zM721,359h1v1h-1zM722,360h1v1h-1zM723,361h1v1h-1zM724,362h1v1h-1zM725,363h1v1h-1zM726,364h1v1h-1zM727,365h1v1h-1zM728,366h1v1h-1zM729,367h1v1h-1zM730,368h1v1h-1zM731,369h1v1h-1zM732,370h1v1h-1zM733,371h1v1h-1zM734,372h1v1h-1zM735,373h1v1h-1zM736,374h1v1h-1zM737,375h1v1h-1zM738,375h1v1h-1zM739,376h1v1h-1zM740,377h1v1h-1zM741,378h1v1h-1zM742,379h1v1h-1zM743,380h1v1h-1zM744,381h1v1h-1zM745,382h1v1h-1zM746,383h1v1h-1zM747,384h1v1h-1zM748,385h1v1h-1zM749,386h1v1h-1zM750,387h1v1h-1zM751,388h1v1h-1zM752,389h1v1h-1zM753,390h1v1h-1zM754,391h1v1h-1zM755,392h1v1h-1zM756,392h1v1h-1zM757,393h1v1h-1zM758,394h1v1h-1zM759,395h1v1h-1zM760,396h1v1h-1zM761,397h1v1h-1zM762,398h1v1h-1zM763,399h1v1h-1zM764,400h1v1h-1zM765,401h1v1h-1zM766,402h1v1h-1zM767,403h1v1h-1zM768,404h1v1h-1zM769,405h1v1h-1zM770,406h1v1h-1zM771,407h1v1h-1zM772,408h1v1h-1zM773,409h1v1h-1zM774,410h1v1h-1zM775,410h1v1h-1zM776,411h1v1h-1zM777,412h1v1h-1zM778,413h1v1h-1zM779,414h1v1h-1zM780,415h1v1h-1zM781,416h1v1h-1zM782,417h1v1h-1zM783,418h1v1h-1zM784,419h1v1h-1zM785,420h1v1h-1zM786,421h1v1h-1zM787,422h1v1h-1zM788,423h1v1h-1zM789,424h1v1h-1zM790,425h1v1h-1zM791,426h1v1h-1zM792,427h1v1h-1zM793,428h1v1h-1zM794,428h1v1h-1zM795,429h1v1h-1zM796,430h1v1h-1zM797,431h1v1h-1zM798,432h1v1h-1zM799,433h1v1h-1zM800,434h1v1h-1zM801,435h1v1h-1zM802,436h1v1h-1zM803,437h1v1h-1zM804,438h1v1h-1zM805,439h1v1h-1zM806,440h1v1h-1zM807,441h1v1h-1zM808,442h1v1h-1zM809,443h1v1h-1zM810,444h1v1h-1zM811,445h1v1h-1zM812,446h1v1h-1zM813,446h1v1h-1zM814,447h1v1h-1zM815,448h1v1h-1zM816,449h1v1h-1zM817,450h1v1h-1zM818,451h1v1h-1zM819,452h1v1h-1zM820,453h1v1h-1zM821,454h1v1h-1zM822,455h1v1h-1zM823,456h1v1h-1zM824,457h1v1h-1zM825,458h1v1h-1zM826,459h1v1h-1zM827,460h1v1h-1zM828,461h1v1h-1zM829,462h1v1h-1zM830,463h1v1h-1zM831,463h1v1h-1zM832,464h1v1h-1zM833,465h1v1h-1zM834,466h1v1h-1zM835,467h1v1h-1zM836,468h1v1h-1zM837,469h1v1h-1zM838,470h1v1h-1zM839,471h1v1h-1zM840,472h1v1h-1zM841,473h1v1h-1zM842,474h1v1h-1zM843,475h1v1h-1zM844,476h1v1h-1zM845,477h1v1h-1zM846,478h1v1h-1zM847,479h1v1h-1zM848,480h1v1h-1zM849,481h1v1h-1zM850,481h1v1h-1zM851,482h1v1h-1zM852,483h1v1h-1zM853,484h1v1h-1zM854,485h1v1h-1zM855,486h1v1h-1zM856,487h1v1h-1zM857,488h1v1h-1zM858,489h1v1h-1zM859,490h1v1h-1zM860,491h1v1h-1zM861,492h1v1h-1zM862,493h1v1h-1zM863,494h1v1h-1zM864,495h1v1h-1zM865,496h1v1h-1zM866,497h1v1h-1zM867,498h1v1h-1zM868,499h1v1h-1zM869,499h1v1h-1zM870,500h1v1h-1zM871,501h1v1h-1zM872,502h1v1h-1zM873,503h1v1h-1zM874,504h1v1h-1zM875,505h1v1h-1zM876,506h1v1h-1z" fill="#f00"/>
<rect x="51" y="672" width="65" height="2" fill="#f00"/><rect x="116" y="673" width="1" height="1" fill="#f00"/>
<rect x="932" y="0" width="1" height="870" fill="#000"/>
<rect x="0" y="869" width="933" height="1" fill="#000"/>
<rect x="0" y="905" width="933" height="1" fill="#808080"/>
<rect x="933" y="870" width="47" height="36" fill="#e9e9e9"/>
<rect x="933" y="869" width="47" height="1" fill="#707070"/>
<rect x="932" y="870" width="1" height="36" fill="#707070"/>
<rect x="933" y="853" width="8" height="1" fill="#000"/>
<rect x="933" y="828" width="3" height="1" fill="#000"/>
<rect x="933" y="803" width="8" height="1" fill="#000"/>
<rect x="933" y="779" width="3" height="1" fill="#000"/>
<rect x="933" y="755" width="8" height="1" fill="#000"/>
<rect x="933" y="731" width="3" height="1" fill="#000"/>
<rect x="933" y="708" width="8" height="1" fill="#000"/>
<rect x="933" y="686" width="3" height="1" fill="#000"/>
<rect x="933" y="664" width="8" height="1" fill="#000"/>
<rect x="933" y="642" width="3" height="1" fill="#000"/>
<rect x="933" y="621" width="8" height="1" fill="#000"/>
<rect x="933" y="600" width="3" height="1" fill="#000"/>
<rect x="933" y="579" width="8" height="1" fill="#000"/>
<rect x="933" y="559" width="3" height="1" fill="#000"/>
<rect x="933" y="539" width="8" height="1" fill="#000"/>
<rect x="933" y="519" width="3" height="1" fill="#000"/>
<rect x="933" y="500" width="3" height="1" fill="#000"/>
<rect x="933" y="481" width="3" height="1" fill="#000"/>
<rect x="933" y="462" width="8" height="1" fill="#000"/>
<rect x="933" y="444" width="3" height="1" fill="#000"/>
<rect x="933" y="425" width="8" height="1" fill="#000"/>
<rect x="933" y="407" width="3" height="1" fill="#000"/>
<rect x="933" y="390" width="8" height="1" fill="#000"/>
<rect x="933" y="372" width="3" height="1" fill="#000"/>
<rect x="933" y="355" width="8" height="1" fill="#000"/>
<rect x="933" y="338" width="3" height="1" fill="#000"/>
<rect x="933" y="322" width="8" height="1" fill="#000"/>
<rect x="933" y="305" width="3" height="1" fill="#000"/>
<rect x="933" y="289" width="8" height="1" fill="#000"/>
<rect x="933" y="273" width="3" height="1" fill="#000"/>
<rect x="933" y="257" width="8" height="1" fill="#000"/>
<rect x="933" y="241" width="3" height="1" fill="#000"/>
<rect x="933" y="226" width="8" height="1" fill="#000"/>
<rect x="933" y="211" width="3" height="1" fill="#000"/>
<rect x="933" y="196" width="8" height="1" fill="#000"/>
<rect x="933" y="181" width="3" height="1" fill="#000"/>
<rect x="933" y="166" width="8" height="1" fill="#000"/>
<rect x="933" y="151" width="3" height="1" fill="#000"/>
<rect x="933" y="137" width="8" height="1" fill="#000"/>
<rect x="933" y="123" width="3" height="1" fill="#000"/>
<rect x="933" y="109" width="8" height="1" fill="#000"/>
<rect x="933" y="95" width="3" height="1" fill="#000"/>
<rect x="933" y="81" width="8" height="1" fill="#000"/>
<rect x="933" y="68" width="3" height="1" fill="#000"/>
<rect x="933" y="54" width="8" height="1" fill="#000"/>
<rect x="933" y="41" width="3" height="1" fill="#000"/>
<rect x="933" y="28" width="8" height="1" fill="#000"/>
<rect x="933" y="15" width="3" height="1" fill="#000"/>
<rect x="933" y="2" width="8" height="1" fill="#000"/>
<rect x="1" y="870" width="1" height="9" fill="#000"/>
<rect x="8" y="870" width="1" height="9" fill="#000"/>
<rect x="15" y="870" width="1" height="9" fill="#000"/>
<rect x="22" y="870" width="1" height="9" fill="#000"/>
<rect x="30" y="870" width="1" height="9" fill="#000"/>
<rect x="37" y="870" width="1" height="36" fill="#000"/>
<rect x="44" y="870" width="1" height="9" fill="#000"/>
<rect x="51" y="870" width="1" height="9" fill="#000"/>
<rect x="58" y="870" width="1" height="9" fill="#000"/>
<rect x="65" y="870" width="1" height="9" fill="#000"/>
<rect x="73" y="870" width="1" height="9" fill="#000"/>
<rect x="80" y="870" width="1" height="9" fill="#000"/>
<rect x="87" y="870" width="1" height="9" fill="#000"/>
<rect x="94" y="870" width="1" height="9" fill="#000"/>
<rect x="101" y="870" width="1" height="9" fill="#000"/>
<rect x="109" y="870" width="1" height="9" fill="#000"/>
<rect x="116" y="870" width="1" height="9" fill="#000"/>
<rect x="123" y="870" width="1" height="9" fill="#000"/>
<rect x="130" y="870" width="1" height="9" fill="#000"/>
<rect x="137" y="870" width="1" height="9" fill="#000"/>
<rect x="144" y="870" width="1" height="9" fill="#000"/>
<rect x="152" y="870" width="1" height="9" fill="#000"/>
<rect x="159" y="870" width="1" height="9" fill="#000"/>
<rect x="166" y="870" width="1" height="9" fill="#000"/>
<rect x="173" y="870" width="1" height="9" fill="#000"/>
<rect x="180" y="870" width="1" height="9" fill="#000"/>
<rect x="188" y="870" width="1" height="36" fill="#000"/>
<rect x="195" y="870" width="1" height="9" fill="#000"/>
<rect x="202" y="870" width="1" height="9" fill="#000"/>
<rect x="209" y="870" width="1" height="9" fill="#000"/>
<rect x="216" y="870" width="1" height="9" fill="#000"/>
<rect x="224" y="870" width="1" height="9" fill="#000"/>
<rect x="231" y="870" width="1" height="9" fill="#000"/>
<rect x="238" y="870" width="1" height="9" fill="#000"/>
<rect x="245" y="870" width="1" height="9" fill="#000"/>
<rect x="252" y="870" width="1" height="9" fill="#000"/>
<rect x="259" y="870" width="1" height="9" fill="#000"/>
<rect x="267" y="870" width="1" height="9" fill="#000"/>
<rect x="274" y="870" width="1" height="9" fill="#000"/>
<rect x="281" y="870" width="1" height="9" fill="#000"/>
<rect x="288" y="870" width="1" height="9" fill="#000"/>
<rect x="295" y="870" width="1" height="9" fill="#000"/>
<rect x="303" y="870" width="1" height="9" fill="#000"/>
<rect x="310" y="870" width="1" height="9" fill="#000"/>
<rect x="317" y="870" width="1" height="9" fill="#000"/>
<rect x="324" y="870" width="1" height="9" fill="#000"/>
<rect x="331" y="870" width="1" height="36" fill="#000"/>
<rect x="338" y="870" width="1" height="9" fill="#000"/>
<rect x="346" y="870" width="1" height="9" fill="#000"/>
<rect x="353" y="870" width="1" height="9" fill="#000"/>
<rect x="360" y="870" width="1" height="9" fill="#000"/>
<rect x="367" y="870" width="1" height="9" fill="#000"/>
<rect x="374" y="870" width="1" height="9" fill="#000"/>
<rect x="382" y="870" width="1" height="9" fill="#000"/>
<rect x="389" y="870" width="1" height="9" fill="#000"/>
<rect x="396" y="870" width="1" height="9" fill="#000"/>
<rect x="403" y="870" width="1" height="9" fill="#000"/>
<rect x="410" y="870" width="1" height="9" fill="#000"/>
<rect x="417" y="870" width="1" height="9" fill="#000"/>
<rect x="425" y="870" width="1" height="9" fill="#000"/>
<rect x="432" y="870" width="1" height="9" fill="#000"/>
<rect x="439" y="870" width="1" height="9" fill="#000"/>
<rect x="446" y="870" width="1" height="9" fill="#000"/>
<rect x="453" y="870" width="1" height="9" fill="#000"/>
<rect x="461" y="870" width="1" height="9" fill="#000"/>
<rect x="468" y="870" width="1" height="9" fill="#000"/>
<rect x="475" y="870" width="1" height="36" fill="#000"/>
<rect x="482" y="870" width="1" height="9" fill="#000"/>
<rect x="489" y="870" width="1" height="9" fill="#000"/>
<rect x="497" y="870" width="1" height="9" fill="#000"/>
<rect x="504" y="870" width="1" height="9" fill="#000"/>
<rect x="511" y="870" width="1" height="9" fill="#000"/>
<rect x="518" y="870" width="1" height="9" fill="#000"/>
<rect x="525" y="870" width="1" height="9" fill="#000"/>
<rect x="532" y="870" width="1" height="9" fill="#000"/>
<rect x="540" y="870" width="1" height="9" fill="#000"/>
<rect x="547" y="870" width="1" height="9" fill="#000"/>
<rect x="554" y="870" width="1" height="9" fill="#000"/>
<rect x="561" y="870" width="1" height="9" fill="#000"/>
<rect x="568" y="870" width="1" height="9" fill="#000"/>
<rect x="576" y="870" width="1" height="9" fill="#000"/>
<rect x="583" y="870" width="1" height="9" fill="#000"/>
<rect x="590" y="870" width="1" height="9" fill="#000"/>
<rect x="597" y="870" width="1" height="9" fill="#000"/>
<rect x="604" y="870" width="1" height="9" fill="#000"/>
<rect x="611" y="870" width="1" height="9" fill="#000"/>
<rect x="619" y="870" width="1" height="36" fill="#000"/>
<rect x="626" y="870" width="1" height="9" fill="#000"/>
<rect x="633" y="870" width="1" height="9" fill="#000"/>
<rect x="640" y="870" width="1" height="9" fill="#000"/>
<rect x="647" y="870" width="1" height="9" fill="#000"/>
<rect x="655" y="870" width="1" height="9" fill="#000"/>
<rect x="662" y="870" width="1" height="9" fill="#000"/>
<rect x="669" y="870" width="1" height="9" fill="#000"/>
<rect x="676" y="870" width="1" height="9" fill="#000"/>
<rect x="683" y="870" width="1" height="9" fill="#000"/>
<rect x="691" y="870" width="1" height="9" fill="#000"/>
<rect x="698" y="870" width="1" height="9" fill="#000"/>
<rect x="705" y="870" width="1" height="9" fill="#000"/>
<rect x="712" y="870" width="1" height="9" fill="#000"/>
<rect x="719" y="870" width="1" height="9" fill="#000"/>
<rect x="726" y="870" width="1" height="9" fill="#000"/>
<rect x="734" y="870" width="1" height="9" fill="#000"/>
<rect x="741" y="870" width="1" height="9" fill="#000"/>
<rect x="748" y="870" width="1" height="9" fill="#000"/>
<rect x="755" y="870" width="1" height="9" fill="#000"/>
<rect x="762" y="870" width="1" height="9" fill="#000"/>
<rect x="770" y="870" width="1" height="9" fill="#000"/>
<rect x="777" y="870" width="1" height="36" fill="#000"/>
<rect x="784" y="870" width="1" height="9" fill="#000"/>
<rect x="791" y="870" width="1" height="9" fill="#000"/>
<rect x="798" y="870" width="1" height="9" fill="#000"/>
<rect x="805" y="870" width="1" height="9" fill="#000"/>
<rect x="813" y="870" width="1" height="9" fill="#000"/>
<rect x="820" y="870" width="1" height="9" fill="#000"/>
<rect x="827" y="870" width="1" height="9" fill="#000"/>
<rect x="834" y="870" width="1" height="9" fill="#000"/>
<rect x="841" y="870" width="1" height="9" fill="#000"/>
<rect x="849" y="870" width="1" height="9" fill="#000"/>
<rect x="856" y="870" width="1" height="9" fill="#000"/>
<rect x="863" y="870" width="1" height="9" fill="#000"/>
<rect x="870" y="870" width="1" height="9" fill="#000"/>
<rect x="877" y="870" width="1" height="9" fill="#000"/>
<rect x="885" y="870" width="1" height="9" fill="#000"/>
<rect x="892" y="870" width="1" height="9" fill="#000"/>
<rect x="899" y="870" width="1" height="9" fill="#000"/>
<rect x="906" y="870" width="1" height="9" fill="#000"/>
<rect x="913" y="870" width="1" height="9" fill="#000"/>
<rect x="920" y="870" width="1" height="36" fill="#000"/>
<rect x="928" y="870" width="1" height="9" fill="#000"/>
</g>
<rect x="937" y="491" width="43" height="30" fill="#004080" shape-rendering="crispEdges"/>
<text x="955.10" y="863.76" font-size="22.0" fill="#000" textLength="24.15" lengthAdjust="spacingAndGlyphs">24</text>
<text x="955.10" y="813.64" font-size="22.0" fill="#000" textLength="24.15" lengthAdjust="spacingAndGlyphs">25</text>
<text x="955.10" y="765.48" font-size="22.0" fill="#000" textLength="24.15" lengthAdjust="spacingAndGlyphs">26</text>
<text x="955.10" y="719.14" font-size="22.0" fill="#000" textLength="24.15" lengthAdjust="spacingAndGlyphs">27</text>
<text x="955.10" y="674.49" font-size="22.0" fill="#000" textLength="24.15" lengthAdjust="spacingAndGlyphs">28</text>
<text x="955.10" y="631.41" font-size="22.0" fill="#000" textLength="24.15" lengthAdjust="spacingAndGlyphs">29</text>
<text x="955.10" y="589.78" font-size="22.0" fill="#000" textLength="24.15" lengthAdjust="spacingAndGlyphs">30</text>
<text x="955.10" y="549.52" font-size="22.0" fill="#000" textLength="24.15" lengthAdjust="spacingAndGlyphs">31</text>
<text x="955.10" y="472.76" font-size="22.0" fill="#000" textLength="24.15" lengthAdjust="spacingAndGlyphs">33</text>
<text x="955.10" y="436.11" font-size="22.0" fill="#000" textLength="24.15" lengthAdjust="spacingAndGlyphs">34</text>
<text x="955.10" y="400.52" font-size="22.0" fill="#000" textLength="24.15" lengthAdjust="spacingAndGlyphs">35</text>
<text x="955.10" y="365.93" font-size="22.0" fill="#000" textLength="24.15" lengthAdjust="spacingAndGlyphs">36</text>
<text x="955.10" y="332.29" font-size="22.0" fill="#000" textLength="24.15" lengthAdjust="spacingAndGlyphs">37</text>
<text x="955.10" y="299.55" font-size="22.0" fill="#000" textLength="24.15" lengthAdjust="spacingAndGlyphs">38</text>
<text x="955.10" y="267.66" font-size="22.0" fill="#000" textLength="24.15" lengthAdjust="spacingAndGlyphs">39</text>
<text x="955.10" y="236.57" font-size="22.0" fill="#000" textLength="24.15" lengthAdjust="spacingAndGlyphs">40</text>
<text x="955.10" y="206.25" font-size="22.0" fill="#000" textLength="24.15" lengthAdjust="spacingAndGlyphs">41</text>
<text x="955.10" y="176.67" font-size="22.0" fill="#000" textLength="24.15" lengthAdjust="spacingAndGlyphs">42</text>
<text x="955.10" y="147.78" font-size="22.0" fill="#000" textLength="24.15" lengthAdjust="spacingAndGlyphs">43</text>
<text x="955.10" y="119.55" font-size="22.0" fill="#000" textLength="24.15" lengthAdjust="spacingAndGlyphs">44</text>
<text x="955.10" y="91.96" font-size="22.0" fill="#000" textLength="24.15" lengthAdjust="spacingAndGlyphs">45</text>
<text x="955.10" y="64.97" font-size="22.0" fill="#000" textLength="24.15" lengthAdjust="spacingAndGlyphs">46</text>
<text x="955.10" y="38.57" font-size="22.0" fill="#000" textLength="24.15" lengthAdjust="spacingAndGlyphs">47</text>
<clipPath id="cb"><rect x="937" y="491" width="43" height="30"/></clipPath>
<text x="938.30" y="513.6" font-size="22.0" fill="#fff" textLength="41.75" lengthAdjust="spacingAndGlyphs" clip-path="url(#cb)">31.8</text>
<clipPath id="cp"><rect x="0" y="870" width="932" height="36"/></clipPath>
<g clip-path="url(#cp)">
<text x="39.30" y="900.3" font-size="21.2" fill="#000" textLength="104.95" lengthAdjust="spacingAndGlyphs">November</text>
<text x="190.30" y="900.3" font-size="21.2" fill="#000" textLength="102.30" lengthAdjust="spacingAndGlyphs">December</text>
<text x="333.15" y="900.3" font-size="21.2" fill="#000" textLength="48.70" lengthAdjust="spacingAndGlyphs">2020</text>
<text x="477.10" y="900.3" font-size="21.2" fill="#000" textLength="89.25" lengthAdjust="spacingAndGlyphs">February</text>
<text x="620.70" y="900.3" font-size="21.2" fill="#000" textLength="65.80" lengthAdjust="spacingAndGlyphs">March</text>
<text x="778.90" y="900.3" font-size="21.2" fill="#000" textLength="49.70" lengthAdjust="spacingAndGlyphs">April</text>
<text x="922.2" y="900.3" font-size="21.2" fill="#000" textLength="40" lengthAdjust="spacingAndGlyphs">May</text>
</g>
<text x="6.25" y="26.45" font-size="22.0" fill="#000" textLength="41.05" lengthAdjust="spacingAndGlyphs">RIC:</text>
<text x="50.75" y="26.45" font-size="22.0" fill="#000" textLength="82.40" lengthAdjust="spacingAndGlyphs">1928.HK</text>
<text x="6.25" y="55.4" font-size="22.0" fill="#000" textLength="117.55" lengthAdjust="spacingAndGlyphs">EXCHANGE:</text>
<text x="129.05" y="55.4" font-size="22.0" fill="#000" textLength="61.15" lengthAdjust="spacingAndGlyphs">HONG</text>
<text x="195.85" y="55.4" font-size="22.0" fill="#000" textLength="58.65" lengthAdjust="spacingAndGlyphs">KONG</text>
<text x="6.40" y="84.35" font-size="22.0" fill="#000" textLength="83.95" lengthAdjust="spacingAndGlyphs">SECTOR:</text>
<text x="95.15" y="84.35" font-size="22.0" fill="#000" textLength="117.90" lengthAdjust="spacingAndGlyphs">CONSUMER</text>
<text x="219.35" y="84.35" font-size="22.0" fill="#000" textLength="101.35" lengthAdjust="spacingAndGlyphs">CYCLICALS</text>
<text x="6.90" y="113.3" font-size="22.0" fill="#000" textLength="76.50" lengthAdjust="spacingAndGlyphs">WEEKLY</text>
<text x="89.70" y="113.3" font-size="22.0" fill="#000" textLength="60.60" lengthAdjust="spacingAndGlyphs">SCALE</text>
<rect x="680" y="343" width="184" height="26" fill="#fff"/>
<text x="681.05" y="363.7" font-size="19.5" fill="#00f" textLength="52.85" lengthAdjust="spacingAndGlyphs">PRICE</text>
<text x="739.65" y="363.7" font-size="19.5" fill="#00f" textLength="78.80" lengthAdjust="spacingAndGlyphs">TARGET:</text>
<text x="822.00" y="363.7" font-size="19.5" fill="#00f" textLength="38.90" lengthAdjust="spacingAndGlyphs">35.4</text>
<text x="482.65" y="617.8" font-size="19.5" fill="#00f" textLength="74.85" lengthAdjust="spacingAndGlyphs">DOUBLE</text>
<text x="482.65" y="644.6" font-size="19.5" fill="#00f" textLength="93.80" lengthAdjust="spacingAndGlyphs">BOTTOM?</text>
<text x="483.15" y="698.8" font-size="19.5" fill="#00f" textLength="25.70" lengthAdjust="spacingAndGlyphs">OR</text>
<text x="514.75" y="698.8" font-size="19.5" fill="#00f" textLength="106.80" lengthAdjust="spacingAndGlyphs">RECTANGLE</text>
<text x="138.95" y="680.7" font-size="19.5" fill="#f00" textLength="33.50" lengthAdjust="spacingAndGlyphs">200</text>
<text x="177.25" y="680.7" font-size="19.5" fill="#f00" textLength="38.05" lengthAdjust="spacingAndGlyphs">DAY</text>
<text x="219.10" y="680.7" font-size="19.5" fill="#f00" textLength="87.55" lengthAdjust="spacingAndGlyphs">AVERAGE</text>
<text x="865.30" y="542.9" font-size="19.5" fill="#00f" textLength="22.05" lengthAdjust="spacingAndGlyphs">31</text>
<text x="829.85" y="741.9" font-size="19.5" fill="#00f" textLength="38.95" lengthAdjust="spacingAndGlyphs">26.4</text>
<line x1="683" y1="374.5" x2="860" y2="374.5" stroke="#00f" stroke-width="1" stroke-dasharray="3,3" shape-rendering="crispEdges"/>
</svg></body></html>
